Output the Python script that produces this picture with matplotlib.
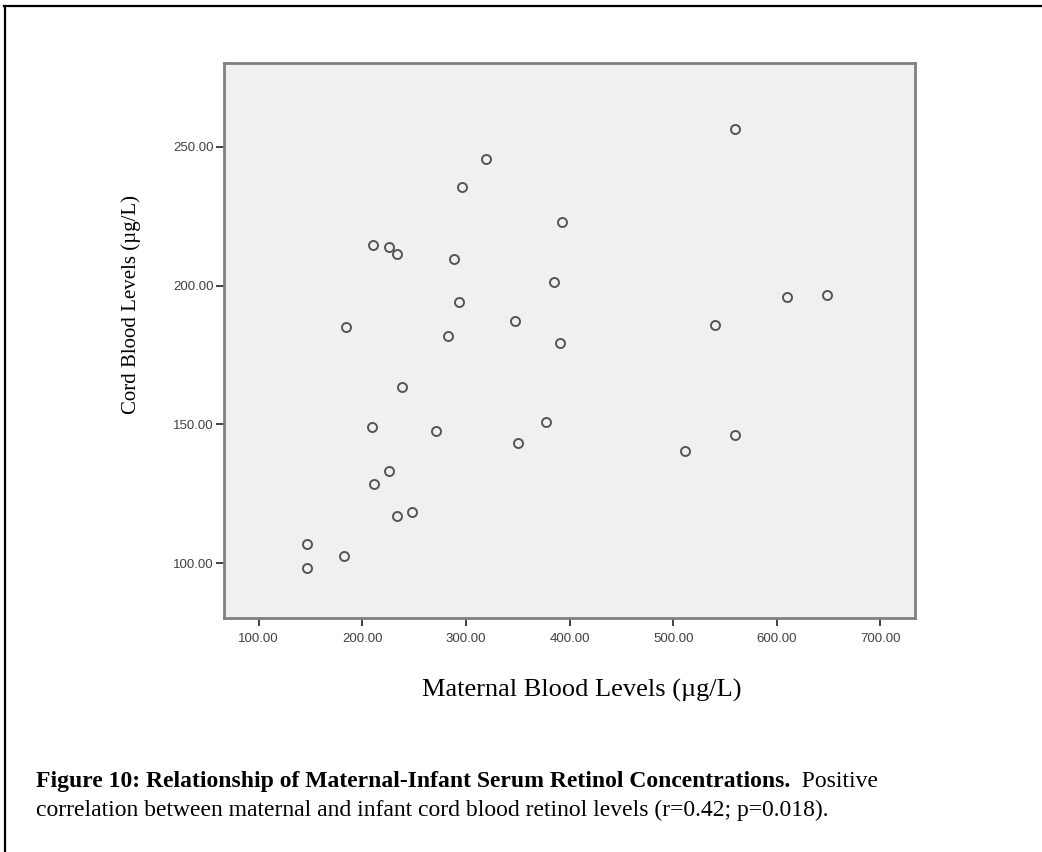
import matplotlib
matplotlib.use("Agg")
import matplotlib.pyplot as plt
from matplotlib.lines import Line2D

# Data (µg/L)
maternal = [147.1, 147.1, 182.3, 209.3, 271.4, 225.7, 211.8, 234.0, 248.2,
            210.8, 225.7, 233.4, 184.5, 238.5, 283.0, 560.0, 319.6, 296.5,
            392.7, 288.7, 384.6, 293.3, 347.6, 391.1, 377.6, 350.5, 511.1,
            559.4, 540.0, 610.0, 648.6]
cord = [107.1, 98.2, 102.5, 149.0, 147.6, 133.2, 128.6, 116.9, 118.3,
        214.5, 213.9, 211.2, 184.9, 163.4, 181.9, 256.2, 245.5, 235.5,
        223.0, 209.5, 201.4, 194.0, 187.2, 179.3, 150.8, 143.4, 140.5,
        146.3, 185.7, 195.8, 196.6]

x_ticks = [100, 200, 300, 400, 500, 600, 700]
y_ticks = [100, 150, 200, 250]
x_label = "Maternal Blood Levels (µg/L)"
y_label = "Cord Blood Levels (µg/L)"
caption_bold = "Figure 10: Relationship of Maternal-Infant Serum Retinol Concentrations."
caption_rest1 = "  Positive"
caption_line2 = "correlation between maternal and infant cord blood retinol levels (r=0.42; p=0.018)."

W, H = 1042, 852
fig = plt.figure(figsize=(W / 100, H / 100), dpi=100)
fig.patch.set_facecolor("white")

def fx(px):
    return px / W

def fy(py):
    return 1 - py / H

ax = fig.add_axes([fx(224), fy(618), fx(915) - fx(224), fy(63) - fy(618)])
ax.set_facecolor("#f0f0f0")
ax.plot(maternal, cord, linestyle="none", marker="o", markersize=6.5,
        markerfacecolor="none", markeredgecolor="#555555", markeredgewidth=1.4)
ax.set_xlim(66.7, 733.3)
ax.set_ylim(80.3, 280.1)
ax.set_xticks(x_ticks)
ax.set_yticks(y_ticks)
ax.set_xticklabels([f"{v:.2f}" for v in x_ticks])
ax.set_yticklabels([f"{v:.2f}" for v in y_ticks])
for s in ax.spines.values():
    s.set_color("#808080")
    s.set_linewidth(2.0)
ax.tick_params(axis="both", direction="out", length=5.5, width=1.3,
               color="#333333", labelcolor="#404040", labelsize=9.5)
ax.tick_params(axis="x", pad=5)
ax.tick_params(axis="y", pad=2)
for lab in ax.get_xticklabels() + ax.get_yticklabels():
    lab.set_family("Liberation Sans")

serif = "Liberation Serif"
fig.text(fx(582), fy(690), x_label, family=serif, fontsize=19,
         ha="center", va="center", color="black")
fig.text(fx(131), fy(304), y_label, family=serif, fontsize=15,
         ha="center", va="center", rotation=90, color="black")

cap_size = 17
t1 = fig.text(fx(36), fy(786.7), caption_bold, family=serif, fontsize=cap_size,
              fontweight="bold", ha="left", va="baseline", color="black")
fig.canvas.draw()
bb = t1.get_window_extent()
fig.text(bb.x1 / W, fy(786.7), caption_rest1, family=serif, fontsize=cap_size,
         ha="left", va="baseline", color="black")
fig.text(fx(36), fy(816), caption_line2, family=serif, fontsize=cap_size,
         ha="left", va="baseline", color="black")

# outer frame lines
fig.add_artist(Line2D([fx(4), 1.0], [fy(6), fy(6)], color="black", linewidth=1.6,
                      transform=fig.transFigure))
fig.add_artist(Line2D([fx(5), fx(5)], [fy(6), 0.0], color="black", linewidth=1.6,
                      transform=fig.transFigure))

fig.savefig("out.png", dpi=100)
